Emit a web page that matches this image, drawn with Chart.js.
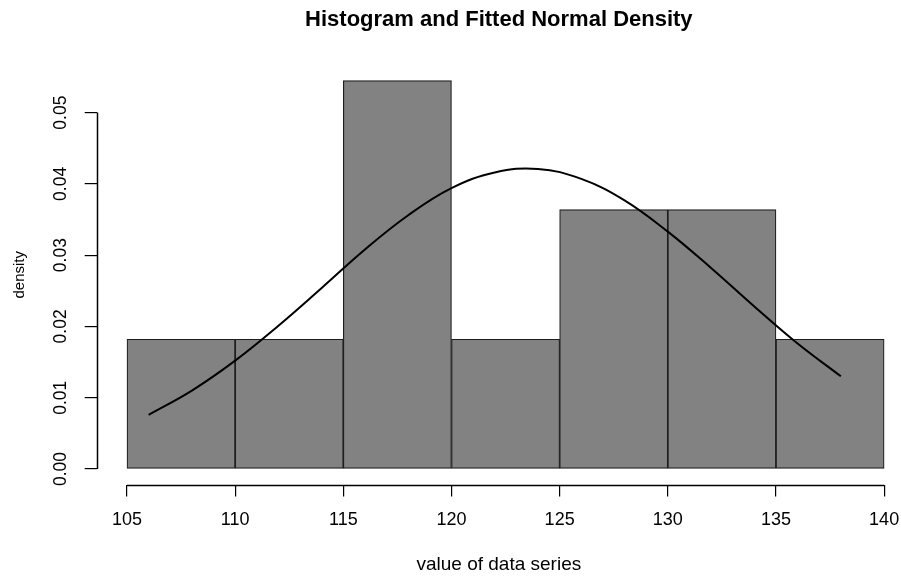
<!DOCTYPE html>
<html>
<head>
<meta charset="utf-8">
<script src="https://cdn.jsdelivr.net/npm/chart.js@4/dist/chart.umd.min.js"></script>
<style>
html,body{margin:0;padding:0;background:#fff;overflow:hidden}
#wrap{width:901px;height:578px;position:relative}
</style>
</head>
<body>
<div id="wrap"><canvas id="c"></canvas></div>
<script>
// ---- data ----
const binStarts   = [105, 110, 115, 120, 125, 130, 135];
const binEnds     = [110, 115, 120, 125, 130, 135, 140];
const binDensity  = [0.0182, 0.0182, 0.0545, 0.0182, 0.0364, 0.0364, 0.0182];

const curveX = [106, 108, 110, 112, 114, 116, 118, 120, 122, 124, 126, 128, 130, 132, 134, 136, 138];
const curveY = [0.0076, 0.0110, 0.0152, 0.0201, 0.0254, 0.0308, 0.0356, 0.0394, 0.0416, 0.0421, 0.0407, 0.0377, 0.0333, 0.0282, 0.0228, 0.0176, 0.0130];

const xTickValues = [105, 110, 115, 120, 125, 130, 135, 140];
const xTickLabels = ['105', '110', '115', '120', '125', '130', '135', '140'];
const yTickValues = [0, 0.01, 0.02, 0.03, 0.04, 0.05];
const yTickLabels = ['0.00', '0.01', '0.02', '0.03', '0.04', '0.05'];

const titleText = 'Histogram and Fitted Normal Density';
const xTitle = 'value of data series';
const yTitle = 'density';

// ---- build chart ----
const FONT = '"Liberation Sans", Arial, Helvetica, sans-serif';
const barData = binStarts.map((s, i) => ({ x: (s + binEnds[i]) / 2, y: binDensity[i] }));
const lineData = curveX.map((x, i) => ({ x: x, y: curveY[i] }));

const rAxisLines = {
  id: 'rAxisLines',
  afterDraw(chart) {
    const ctx = chart.ctx, xs = chart.scales.x, ys = chart.scales.y, ca = chart.chartArea;
    ctx.save();
    ctx.strokeStyle = '#000';
    ctx.lineWidth = 1.5;
    ctx.beginPath();
    const yb = Math.round(ca.bottom) + 0.5;
    ctx.moveTo(xs.getPixelForValue(xTickValues[0]), yb);
    ctx.lineTo(xs.getPixelForValue(xTickValues[xTickValues.length - 1]), yb);
    const xl = Math.round(ca.left) + 0.5;
    ctx.moveTo(xl, ys.getPixelForValue(yTickValues[0]));
    ctx.lineTo(xl, ys.getPixelForValue(yTickValues[yTickValues.length - 1]));
    ctx.stroke();
    ctx.restore();
  }
};

new Chart(document.getElementById('c'), {
  type: 'bar',
  data: {
    datasets: [
      {
        type: 'line',
        data: lineData,
        borderColor: '#000',
        borderWidth: 2,
        pointRadius: 0,
        fill: false,
        tension: 0.4,
        order: 0
      },
      {
        type: 'bar',
        data: barData,
        backgroundColor: '#828282',
        borderColor: '#1e1e1e',
        borderWidth: 1.2,
        borderSkipped: false,
        barPercentage: 1,
        categoryPercentage: 1,
        order: 1
      }
    ]
  },
  options: {
    responsive: true,
    maintainAspectRatio: false,
    devicePixelRatio: 1,
    animation: false,
    layout: { padding: 0 },
    plugins: {
      legend: { display: false },
      tooltip: { enabled: false },
      title: {
        display: true,
        text: titleText,
        fullSize: false,
        color: '#000',
        font: { family: FONT, size: 22, weight: 'bold', lineHeight: 1.2 },
        padding: { top: 7, bottom: 31.6 }
      }
    },
    scales: {
      x: {
        type: 'linear',
        offset: false,
        min: 103.6,
        max: 140.78,
        afterBuildTicks: (s) => { s.ticks = xTickValues.map(v => ({ value: v })); },
        afterFit: (s) => { s.height = 93.5; s.paddingLeft = 0; s.paddingRight = 0; },
        ticks: {
          color: '#000',
          font: { family: FONT, size: 18 },
          padding: 13,
          maxRotation: 0,
          autoSkip: false,
          callback: (v) => { const i = xTickValues.indexOf(v); return i >= 0 ? xTickLabels[i] : ''; }
        },
        grid: { display: true, offset: false, drawOnChartArea: false, drawTicks: true, tickLength: 12, color: '#000', lineWidth: 1.2 },
        border: { display: false },
        title: {
          display: true,
          text: xTitle,
          color: '#000',
          font: { family: FONT, size: 19, lineHeight: 1.2 },
          padding: { top: 0, bottom: 2 }
        }
      },
      y: {
        type: 'linear',
        min: -0.00218,
        max: 0.05668,
        afterBuildTicks: (s) => { s.ticks = yTickValues.map(v => ({ value: v })); },
        afterFit: (s) => { s.width = 96.7; s.paddingTop = 0; s.paddingBottom = 0; },
        ticks: {
          color: '#000',
          font: { family: FONT, size: 17.5 },
          padding: 6.7,
          minRotation: 90,
          maxRotation: 90,
          crossAlign: 'center',
          autoSkip: false,
          callback: (v) => { const i = yTickValues.indexOf(v); return i >= 0 ? yTickLabels[i] : ''; }
        },
        grid: { display: true, drawOnChartArea: false, drawTicks: true, tickLength: 12, color: '#000', lineWidth: 1.2 },
        border: { display: false },
        title: {
          display: true,
          text: yTitle,
          color: '#000',
          font: { family: FONT, size: 15, lineHeight: 1.2 },
          padding: { top: 11, bottom: 0 }
        }
      }
    }
  },
  plugins: [rAxisLines]
});
</script>
</body>
</html>
